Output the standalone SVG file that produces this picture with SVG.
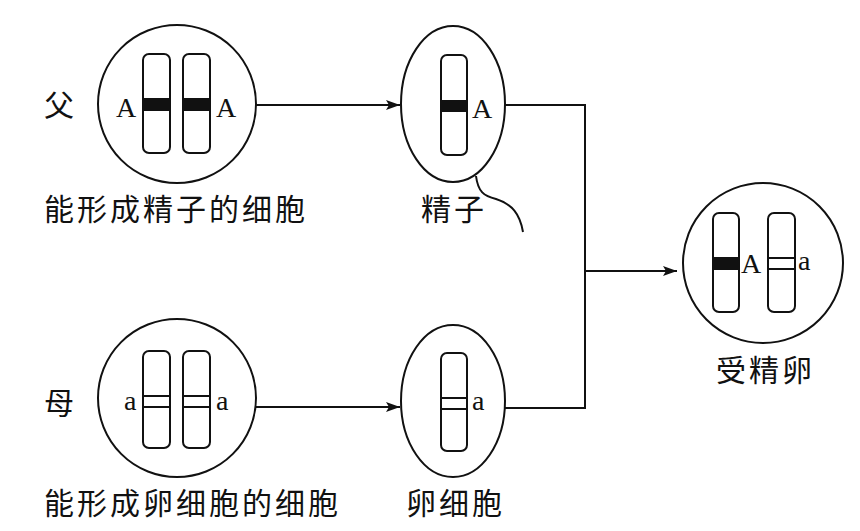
<svg xmlns="http://www.w3.org/2000/svg" width="860" height="531" viewBox="0 0 860 531">
<style>
.cell{fill:none;stroke:#111;stroke-width:2}
.chr{fill:#fff;stroke:#111;stroke-width:2}
.band{fill:#111}
.ln{stroke:#111;stroke-width:2}
.conn{fill:none;stroke:#111;stroke-width:2}
.gene{font-family:"Liberation Serif","DejaVu Serif",serif;font-size:28px;fill:#111}
.lab{font-family:"Noto Sans CJK SC","Noto Sans CJK JP",sans-serif;font-size:30px;fill:#111;letter-spacing:3px}
</style>
<defs>
<marker id="arr" viewBox="0 0 14 10" refX="14" refY="5" markerWidth="14" markerHeight="10" markerUnits="userSpaceOnUse" orient="auto">
<path d="M0,0 L14,5 L0,10 L3,5 Z" fill="#111"/>
</marker>
</defs>
<rect width="860" height="531" fill="#fff"/>
<g id="connectors">
<line class="conn" x1="256" y1="105" x2="400" y2="105" marker-end="url(#arr)"/>
<line class="conn" x1="256" y1="407" x2="400" y2="407" marker-end="url(#arr)"/>
<polyline class="conn" points="505,105 585,105 585,408 505,408"/>
<line class="conn" x1="585" y1="271" x2="677" y2="271" marker-end="url(#arr)"/>
<path class="conn" d="M476,176 C478,192 484,196 496,199 C512,204 520,214 523,232"/>
</g>
<g id="father-label"><text class="lab" x="44" y="116">父</text></g>
<g id="mother-label"><text class="lab" x="44" y="414">母</text></g>
<g id="father-cell">
<circle class="cell" cx="177" cy="104" r="79"/>
<rect class="chr" x="143" y="54" width="27" height="99" rx="6"/>
<rect class="band" x="143" y="98" width="27" height="13"/>
<rect class="chr" x="183" y="54" width="27" height="99" rx="6"/>
<rect class="band" x="183" y="98" width="27" height="13"/>
<text class="gene" x="116" y="117">A</text>
<text class="gene" x="216" y="117">A</text>
<text class="lab" x="44" y="220">能形成精子的细胞</text>
</g>
<g id="sperm">
<ellipse class="cell" cx="453" cy="104" rx="52" ry="78"/>
<rect class="chr" x="441" y="55" width="26" height="100" rx="6"/>
<rect class="band" x="441" y="100" width="26" height="12"/>
<text class="gene" x="472" y="118">A</text>
<text class="lab" x="421" y="220">精子</text>
</g>
<g id="mother-cell">
<circle class="cell" cx="177" cy="398" r="79"/>
<rect class="chr" x="143" y="351" width="27" height="97" rx="6"/>
<line class="ln" x1="143" y1="396" x2="170" y2="396"/>
<line class="ln" x1="143" y1="407" x2="170" y2="407"/>
<rect class="chr" x="183" y="351" width="27" height="97" rx="6"/>
<line class="ln" x1="183" y1="396" x2="210" y2="396"/>
<line class="ln" x1="183" y1="407" x2="210" y2="407"/>
<text class="gene" x="124" y="410">a</text>
<text class="gene" x="216" y="410">a</text>
<text class="lab" x="44" y="514">能形成卵细胞的细胞</text>
</g>
<g id="egg">
<ellipse class="cell" cx="453" cy="401" rx="52" ry="76"/>
<rect class="chr" x="441" y="353" width="26" height="98" rx="6"/>
<line class="ln" x1="441" y1="398" x2="467" y2="398"/>
<line class="ln" x1="441" y1="409" x2="467" y2="409"/>
<text class="gene" x="472" y="410">a</text>
<text class="lab" x="406" y="514">卵细胞</text>
</g>
<g id="zygote">
<circle class="cell" cx="763" cy="263" r="80"/>
<rect class="chr" x="713" y="213" width="26" height="99" rx="6"/>
<rect class="band" x="713" y="257" width="26" height="13"/>
<rect class="chr" x="768" y="213" width="27" height="99" rx="6"/>
<line class="ln" x1="768" y1="258" x2="795" y2="258"/>
<line class="ln" x1="768" y1="269" x2="795" y2="269"/>
<text class="gene" x="741" y="273">A</text>
<text class="gene" x="798" y="270">a</text>
<text class="lab" x="716" y="381">受精卵</text>
</g>
</svg>
